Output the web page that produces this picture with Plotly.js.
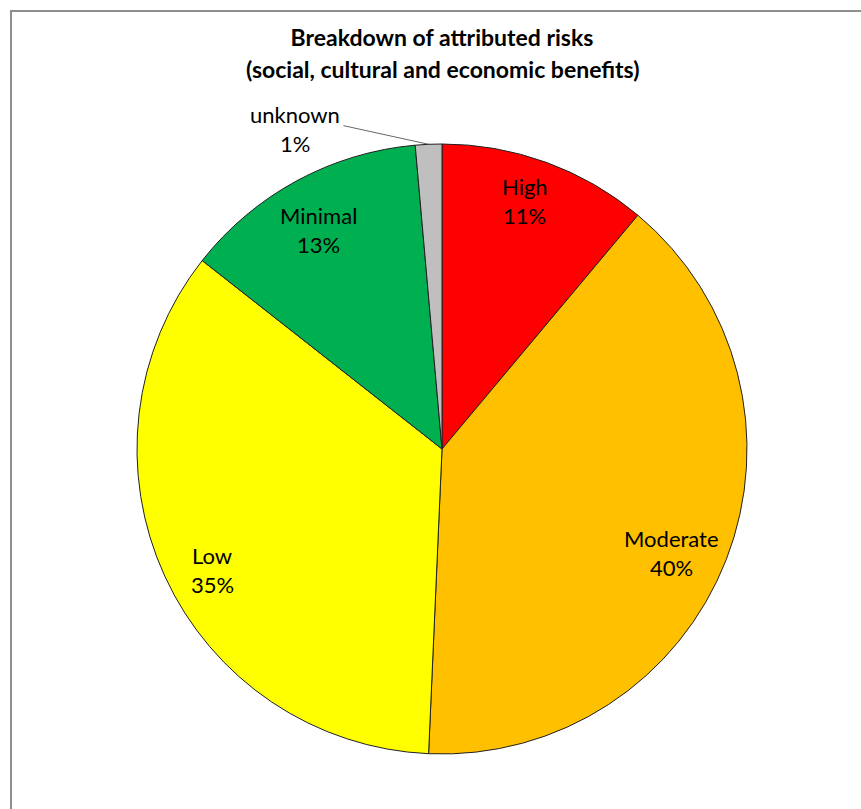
<!DOCTYPE html>
<html>
<head>
<meta charset="utf-8">
<script src="https://cdn.plot.ly/plotly-3.0.1.min.js"></script>
<style>
  html, body { margin: 0; padding: 0; background: #ffffff; }
  #chart { width: 861px; height: 809px; }
  #frame { position: absolute; left: 10px; top: 10px; width: 900px; height: 900px;
           border-left: 2px solid #8e8e8e; border-top: 2px solid #8e8e8e; pointer-events: none; }
</style>
</head>
<body>
<div id="chart"></div>
<div id="frame"></div>
<script>
// ---- data ----
const categories = ["High", "Moderate", "Low", "Minimal", "unknown"];
const shares = [11.1, 39.6, 34.9, 13.0, 1.4];
const sliceColors = ["#FF0000", "#FFC000", "#FFFF00", "#00B050", "#BFBFBF"];
const titleLines = ["Breakdown of attributed risks", "(social, cultural and economic benefits)"];

// ---- layout geometry (label placement tweaks, in pixels) ----
const W = 861, H = 809;
const cx = 442, cy = 449, R = 305;
const labelNudge = [[-5, -7], [-9, 11], [3, 14], [-1, 6], [0, 0]];
const FONT = "Lato, 'Open Sans', sans-serif";

const total = shares.reduce((a, b) => a + b, 0);
const annotations = [];

// title line 2
annotations.push({
  xref: "paper", yref: "paper", x: 443 / W, y: 1 - 69 / H,
  xanchor: "center", yanchor: "middle", showarrow: false,
  text: "<b>" + titleLines[1] + "</b>",
  font: { family: FONT, size: 23, color: "#000" }
});

let cum = 0;
for (let i = 0; i < categories.length; i++) {
  const frac = shares[i] / total;
  const mid = (cum + frac / 2) * 2 * Math.PI;
  cum += frac;
  const pct = Math.round(frac * 100) + "%";
  if (frac > 0.05) {
    const rr = 0.84 * R;
    const px = cx + rr * Math.sin(mid) + labelNudge[i][0];
    const py = cy - rr * Math.cos(mid) + labelNudge[i][1];
    [[categories[i], -14.5], [pct, 14.5]].forEach(([t, dy]) => {
      annotations.push({
        xref: "paper", yref: "paper", x: px / W, y: 1 - (py + dy) / H,
        xanchor: "center", yanchor: "middle", showarrow: false,
        text: t, font: { family: FONT, size: 22, color: "#000" }
      });
    });
  } else {
    // small slice: outside label with leader line
    const tipx = cx + R * Math.sin(mid);
    const tipy = cy - R * Math.cos(mid);
    const lx = 295, ly = 115;
    annotations.push({
      xref: "paper", yref: "paper", x: tipx / W, y: 1 - tipy / H,
      axref: "pixel", ayref: "pixel", ax: lx - tipx, ay: ly - tipy,
      showarrow: true, arrowhead: 0, arrowwidth: 0.8, arrowcolor: "#404040",
      standoff: 0, startstandoff: 2,
      text: categories[i], font: { family: FONT, size: 22, color: "#000" }
    });
    annotations.push({
      xref: "paper", yref: "paper", x: lx / W, y: 1 - (ly + 28) / H,
      xanchor: "center", yanchor: "middle", showarrow: false,
      text: pct, font: { family: FONT, size: 22, color: "#000" }
    });
  }
}

const trace = {
  type: "pie",
  labels: categories,
  values: shares,
  sort: false,
  direction: "clockwise",
  rotation: 0,
  marker: { colors: sliceColors, line: { color: "#202020", width: 1 } },
  textinfo: "none",
  hoverinfo: "label+percent",
  showlegend: false,
  domain: { x: [(cx - R) / W, (cx + R) / W], y: [1 - (cy + R) / H, 1 - (cy - R) / H] }
};

const layout = {
  width: W, height: H,
  margin: { l: 0, r: 0, t: 0, b: 0 },
  paper_bgcolor: "#ffffff",
  showlegend: false,
  title: {
    text: "<b>" + titleLines[0] + "</b>",
    x: 442 / W, xanchor: "center", xref: "paper",
    y: 1 - 38 / H, yanchor: "middle", yref: "paper",
    font: { family: FONT, size: 23, color: "#000" }
  },
  annotations: annotations
};

Plotly.newPlot("chart", [trace], layout, { staticPlot: true });
</script>
</body>
</html>
